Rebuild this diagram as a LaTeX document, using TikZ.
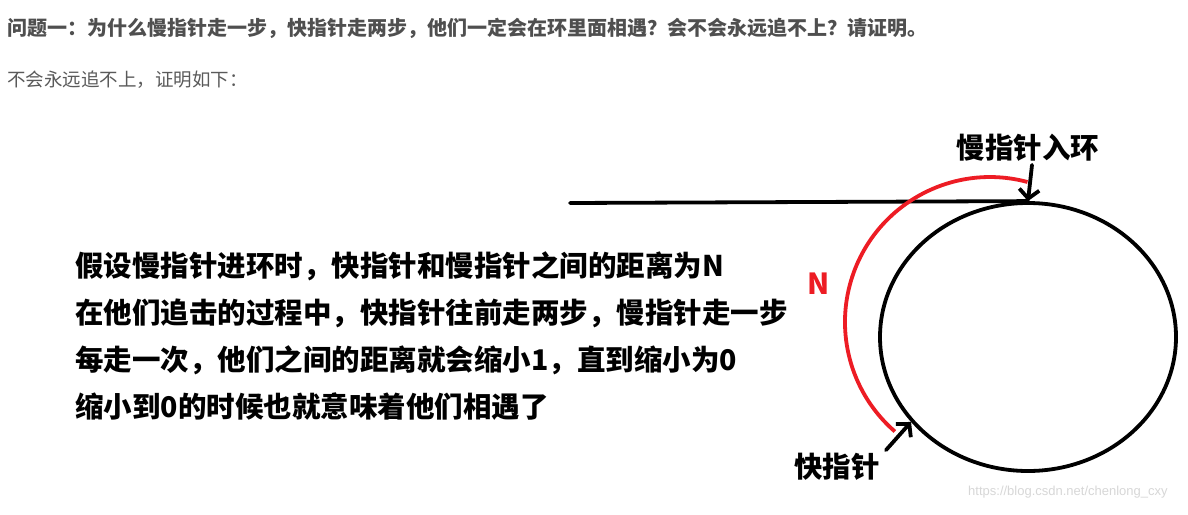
\documentclass[tikz,border=0pt]{standalone}
\usepackage{fontspec}
\usepackage{xcolor}
\usepackage{tikz}
\usetikzlibrary{arrows.meta,positioning,shapes.geometric}
\newfontfamily\cjk{Noto Sans CJK SC}
\newfontfamily\wmfont{Liberation Sans}
\definecolor{titlegray}{RGB}{79,79,79}
\definecolor{subgray}{RGB}{90,90,90}
\definecolor{paintred}{RGB}{237,28,36}
\definecolor{wmgray}{RGB}{215,215,215}

\begin{document}
\begin{tikzpicture}[
  x=1pt, y=1pt,
  txt/.style={anchor=west, inner sep=0pt, align=left},
  lbl/.style={inner sep=0pt, font=\cjk\bfseries\fontsize{28.5}{30}\selectfont},
  pen/.style={line width=3.8pt, line cap=round},
  ar/.style={pen, -{Straight Barb[length=9pt, width=20pt]}}]

\fill[white] (0,0) rectangle (1188,-514);
\useasboundingbox (0,0) rectangle (1188,-514);

% --- header text
\node[txt, text=titlegray, font=\cjk\bfseries\fontsize{20}{22}\selectfont] (title) at (7,-28)
  {问题一：为什么慢指针走一步，快指针走两步，他们一定会在环里面相遇？会不会永远追不上？请证明。};
\node[txt, text=subgray, font=\cjk\fontsize{18.5}{22}\selectfont] (sub) at (7,-80)
  {不会永远追不上，证明如下：};

% --- proof text
\node[txt, anchor=north west, font=\cjk\bfseries\fontsize{28.5}{47.3}\selectfont] (proof) at (75,-251)
  {假设慢指针进环时，快指针和慢指针之间的距离为N\\
   在他们追击的过程中，快指针往前走两步，慢指针走一步\\
   每走一次，他们之间的距离就会缩小1，直到缩小为0\\
   缩小到0的时候也就意味着他们相遇了};

% --- ring and entry line
\node[ellipse, draw, line width=3.8pt, minimum width=296, minimum height=268,
      inner sep=0pt] (ring) at (1028,-337) {};
\coordinate (entry) at (570,-203);
\draw[pen] (entry) -- (ring.north);

% --- distance N
\draw[pen, draw=paintred, line cap=butt] (1027.5,-182) arc[start angle=75, end angle=229, radius=145];
\node[text=paintred, inner sep=0pt, font=\cjk\bfseries\fontsize{29}{30}\selectfont] (dist) at (819,-284) {N};

% --- pointers
\node[lbl] (slow) at (1028,-148) {慢指针入环};
\node[lbl] (fast) at (837,-467) {快指针};
\draw[ar] ([xshift=4pt, yshift=-3pt]slow.south) -- (ring.north);
\draw[ar] ([xshift=6pt, yshift=3pt]fast.north east) -- (ring.216);

% --- watermark
\node[txt, text=wmgray, font=\wmfont\fontsize{13}{15}\selectfont] (wm) at (968,-492)
  {https://blog.csdn.net/chenlong\_cxy};
\end{tikzpicture}
\end{document}
